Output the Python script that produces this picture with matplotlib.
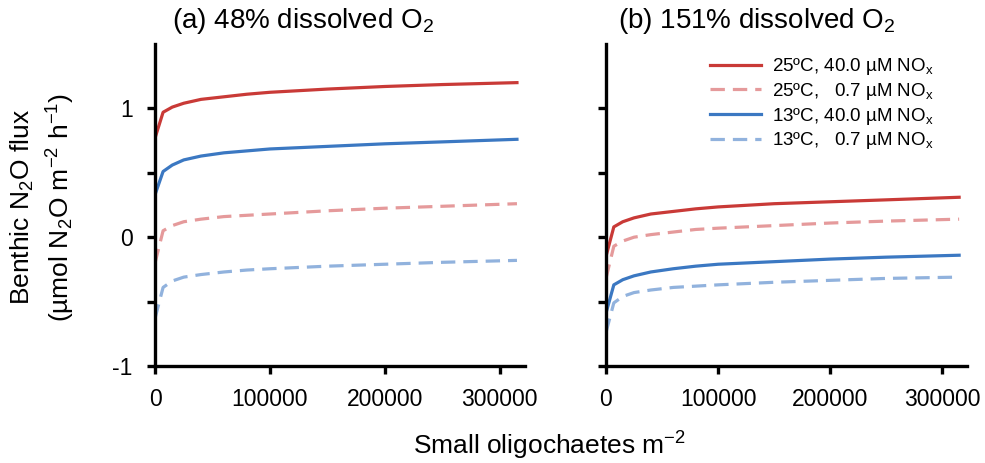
import numpy as np
import matplotlib
matplotlib.use("Agg")
import matplotlib.pyplot as plt

plt.rcParams["font.family"] = ["Liberation Sans", "DejaVu Sans"]
plt.rcParams["mathtext.fontset"] = "custom"
plt.rcParams["mathtext.rm"] = "Liberation Sans"
plt.rcParams["mathtext.it"] = "Liberation Sans:italic"

# --- data ---
density = [0, 7000, 15000, 25000, 40000, 60000, 80000, 100000,
           150000, 200000, 250000, 315000]

# (a) 48% dissolved O2
a_25_high = [0.77, 0.97, 1.01, 1.04, 1.07, 1.09, 1.11, 1.125, 1.15, 1.17, 1.185, 1.20]
a_25_low = [-0.20, 0.05, 0.09, 0.12, 0.14, 0.16, 0.17, 0.18, 0.205, 0.225, 0.24, 0.26]
a_13_high = [0.33, 0.51, 0.56, 0.60, 0.63, 0.655, 0.67, 0.685, 0.705, 0.725, 0.74, 0.76]
a_13_low = [-0.63, -0.39, -0.34, -0.31, -0.29, -0.27, -0.255, -0.245, -0.225, -0.21, -0.195, -0.18]

# (b) 151% dissolved O2
b_25_high = [-0.15, 0.08, 0.12, 0.15, 0.18, 0.20, 0.22, 0.235, 0.26, 0.275, 0.29, 0.31]
b_25_low = [-0.32, -0.07, -0.03, 0.0, 0.02, 0.04, 0.06, 0.07, 0.09, 0.11, 0.125, 0.14]
b_13_high = [-0.59, -0.37, -0.33, -0.30, -0.27, -0.245, -0.225, -0.21, -0.19, -0.17, -0.155, -0.14]
b_13_low = [-0.74, -0.51, -0.46, -0.43, -0.41, -0.39, -0.38, -0.37, -0.35, -0.335, -0.32, -0.31]

labels = [r"25ºC, 40.0 µM NO$_\mathrm{x}$",
          r"25ºC,   0.7 µM NO$_\mathrm{x}$",
          r"13ºC, 40.0 µM NO$_\mathrm{x}$",
          r"13ºC,   0.7 µM NO$_\mathrm{x}$"]
titles = [r"(a) 48% dissolved O$_2$", r"(b) 151% dissolved O$_2$"]

styles = [dict(color="#c93a37", ls="-"),
          dict(color="#e59a9b", ls=(0, (4.5, 2.5))),
          dict(color="#3b78c2", ls="-"),
          dict(color="#91b2dd", ls=(0, (4.5, 2.5)))]

fig = plt.figure(figsize=(9.85, 4.63), dpi=100)
ax_a = fig.add_axes([0.1574, 0.2095, 0.3756, 0.6955])
ax_b = fig.add_axes([0.6152, 0.2095, 0.3665, 0.6955])

for ax, series, title, tx in [(ax_a, [a_25_high, a_25_low, a_13_high, a_13_low], titles[0], 0.40),
                              (ax_b, [b_25_high, b_25_low, b_13_high, b_13_low], titles[1], 0.418)]:
    for ys, st, lab in zip(series, styles, labels):
        ax.plot(density, ys, lw=2.3, label=lab, **st)
    ax.set_xlim(0, 322000)
    ax.set_ylim(-1, 1.5)
    ax.set_xticks([0, 100000, 200000, 300000])
    ax.set_yticks([-1, -0.5, 0, 0.5, 1])
    for s in ["top", "right"]:
        ax.spines[s].set_visible(False)
    for s in ["left", "bottom"]:
        ax.spines[s].set_linewidth(2.4)
    ax.tick_params(width=2.4, length=6, labelsize=16.5, direction="out")
    ax.tick_params(axis="x", pad=10)
    ax.tick_params(axis="y", pad=10)
    ax.text(tx, 1.07, title, transform=ax.transAxes, ha="center", va="center", fontsize=20)

ax_a.set_yticklabels(["-1", "", "0", "", "1"])
ax_b.set_yticklabels([])

fig.text(0.044, 0.553, "Benthic N$_2$O flux\n(µmol N$_2$O m$^{-2}$ h$^{-1}$)",
         rotation=90, ha="center", va="center", multialignment="center",
         fontsize=19, linespacing=1.35)
fig.text(0.558, 0.037, "Small oligochaetes m$^{-2}$", ha="center", va="center", fontsize=19)

ax_b.legend(loc="upper left", bbox_to_anchor=(0.288, 0.962), frameon=False, fontsize=13.5,
            handlelength=2.7, labelspacing=0.2, handletextpad=0.6,
            borderpad=0, borderaxespad=0)

fig.savefig("out.png", dpi=100, facecolor="white")
